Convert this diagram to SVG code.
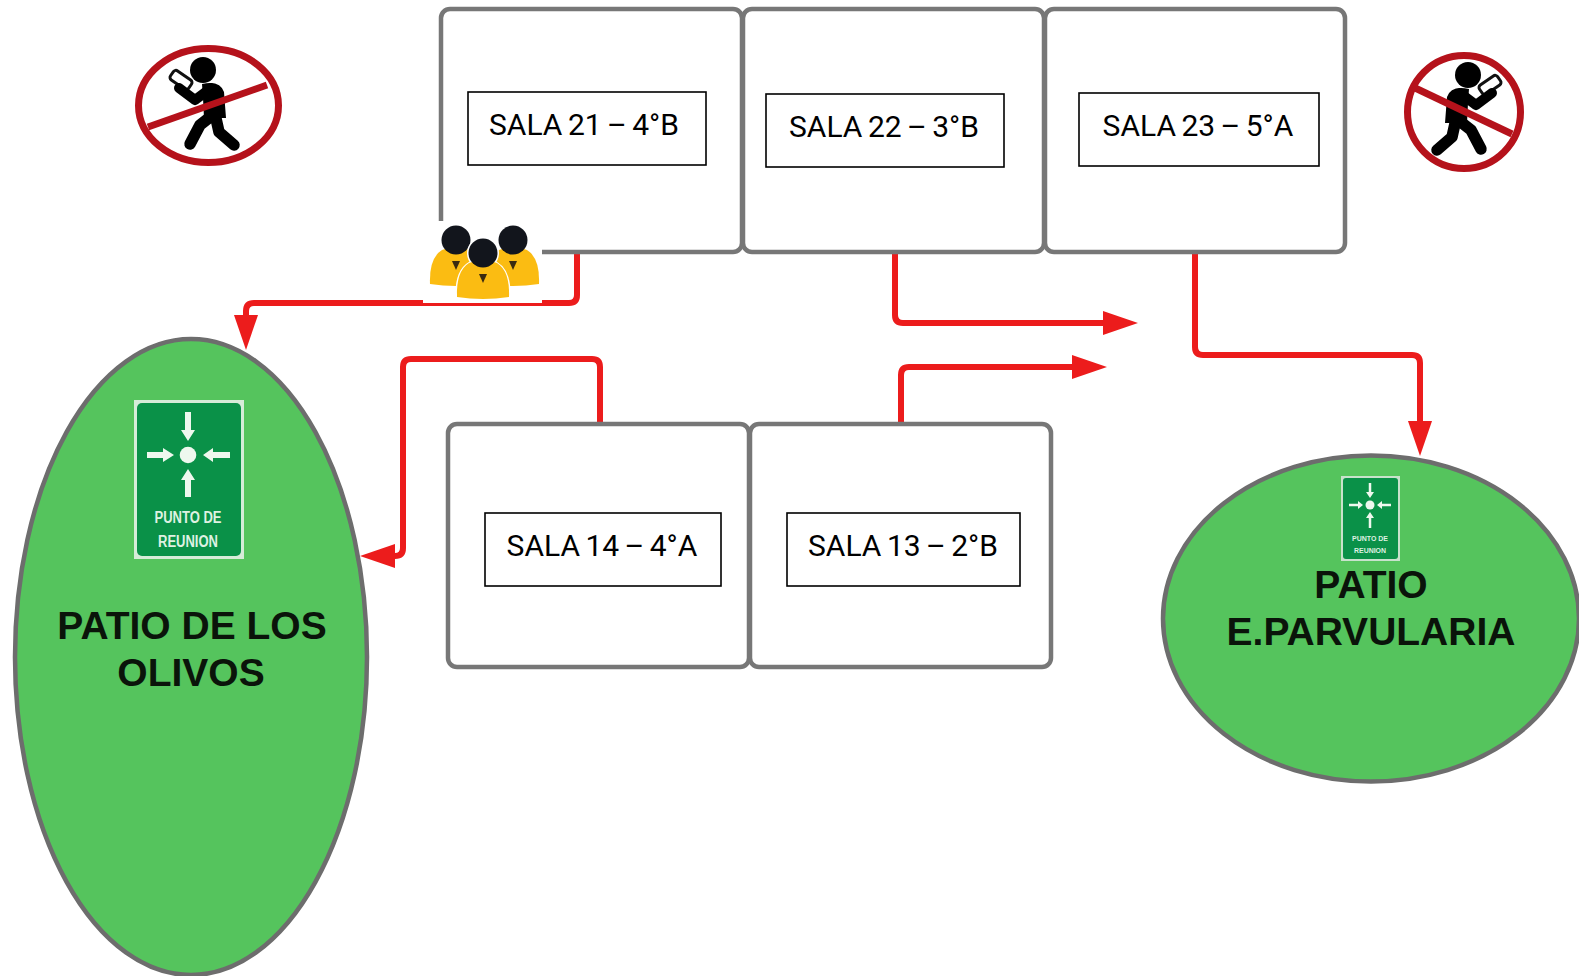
<svg xmlns="http://www.w3.org/2000/svg" width="1579" height="976" viewBox="0 0 1579 976">
<style>
.room{fill:#fff;stroke:#777;stroke-width:4.5}
.lbl{fill:#fff;stroke:#000;stroke-width:1.6}
.t{font-family:Roboto,"Liberation Sans",sans-serif;font-size:30px;word-spacing:-2px;fill:#000;text-anchor:middle}
.b{font-family:"Liberation Sans",Arial,sans-serif;font-weight:700;font-size:39px;fill:#0a140a;text-anchor:middle}
.patio{fill:#55c45d;stroke:#6d6d6d;stroke-width:4.5}
.wire{fill:none;stroke:#ec1c1c;stroke-width:6;stroke-linejoin:round}
.ban{fill:none;stroke:#b5121b}
.sign{fill:#0a9148}
.arr{fill:none;stroke:#eef8ee}
.st{font-family:"Liberation Sans",Arial,sans-serif;font-weight:700;fill:#dff2e2;text-anchor:middle}
</style>
<defs>
<marker id="ah" markerUnits="userSpaceOnUse" markerWidth="36" markerHeight="24" refX="3" refY="12" orient="auto"><path d="M0 0L35 12L0 24Z" fill="#ec1c1c"/></marker>
<g id="walker">
<circle cx="-5" cy="-38" r="13" fill="#000"/>
<rect x="-38" y="-33.500" width="22" height="11" rx="3" transform="rotate(35 -27 -28)" fill="#fff" stroke="#111" stroke-width="3"/>
<path d="M-29-20L-13-8L3-20" fill="none" stroke="#000" stroke-width="10" stroke-linecap="round" stroke-linejoin="round"/>
<path d="M-6-24Q12-28 16-16L18 10L-4 10L-5-10Z" fill="#000"/>
<path d="M6 6L-8 17L-18 36M7 6L11 24L26 37" fill="none" stroke="#000" stroke-width="11.500" stroke-linecap="round" stroke-linejoin="round"/>
</g>
<g id="person">
<path d="M-26 24Q-27-2-14-10Q0-16 14-10Q27-2 26 24Q0 28-26 24Z" fill="#fbbc12"/>
<circle cx="0" cy="-20" r="14.500" fill="#12151c"/>
<path d="M-4 1H4L0 10Z" fill="#3a2a10"/>
</g>
</defs>

<g id="connectors">
<path class="wire" d="M577 252V295Q577 303 569 303H254Q246 303 246 311V318" marker-end="url(#ah)"/>
<path class="wire" d="M895 252V315Q895 323 903 323H1106" marker-end="url(#ah)"/>
<path class="wire" d="M1195 252V347Q1195 355 1203 355H1412Q1420 355 1420 363V424" marker-end="url(#ah)"/>
<path class="wire" d="M600 424V367Q600 359 592 359H411Q403 359 403 367V548Q403 556 395 556H392" marker-end="url(#ah)"/>
<path class="wire" d="M901 424V375Q901 367 909 367H1075" marker-end="url(#ah)"/>
</g>

<g id="sala21"><rect class="room" x="441" y="9" width="301" height="243" rx="9"/><rect class="lbl" x="468" y="92" width="238" height="73"/><text class="t" x="584" y="135">SALA 21 – 4°B</text></g>
<g id="sala22"><rect class="room" x="743" y="9" width="301" height="243" rx="9"/><rect class="lbl" x="766" y="94" width="238" height="73"/><text class="t" x="884" y="137">SALA 22 – 3°B</text></g>
<g id="sala23"><rect class="room" x="1045" y="9" width="300" height="243" rx="9"/><rect class="lbl" x="1079" y="93" width="240" height="73"/><text class="t" x="1198" y="136">SALA 23 – 5°A</text></g>
<g id="sala14"><rect class="room" x="448" y="424" width="301" height="243" rx="9"/><rect class="lbl" x="485" y="513" width="236" height="73"/><text class="t" x="602" y="556">SALA 14 – 4°A</text></g>
<g id="sala13"><rect class="room" x="750" y="424" width="301" height="243" rx="9"/><rect class="lbl" x="787" y="513" width="233" height="73"/><text class="t" x="903" y="556">SALA 13 – 2°B</text></g>

<g id="patio-olivos">
<ellipse class="patio" cx="191" cy="657" rx="176" ry="318"/>
<rect x="134" y="400" width="110" height="159" fill="#d6ecd8"/>
<rect class="sign" x="137" y="403" width="104" height="153" rx="5"/>
<circle cx="188" cy="455" r="8.300" fill="#eef8ee"/>
<path class="arr" stroke-width="6" d="M188 412V432M188 478V497M147 455H165M230 455H211"/>
<path fill="#eef8ee" d="M181 430H195L188 441ZM181 480H195L188 469ZM163 448V462L174 455ZM213 448V462L203 455Z"/>
<text class="st" x="188" y="523" font-size="16" textLength="67" lengthAdjust="spacingAndGlyphs">PUNTO DE</text>
<text class="st" x="188" y="547" font-size="16" textLength="60" lengthAdjust="spacingAndGlyphs">REUNION</text>
<text class="b" x="192" y="639">PATIO DE LOS</text>
<text class="b" x="191" y="686">OLIVOS</text>
</g>

<g id="patio-parvularia">
<ellipse class="patio" cx="1371" cy="618.500" rx="208" ry="163"/>
<rect x="1341" y="476" width="59" height="85" fill="#c8e2cc"/>
<rect class="sign" x="1343" y="478" width="55" height="81" rx="3"/>
<circle cx="1370" cy="505" r="4.500" fill="#eef8ee"/>
<path class="arr" stroke-width="2.500" d="M1370 483V492M1370 518V528M1349 505H1358M1391 505H1382"/>
<path fill="#eef8ee" d="M1366 492H1374L1370 498ZM1366 518H1374L1370 512ZM1358 501V509L1363 505ZM1382 501V509L1377 505Z"/>
<text class="st" x="1370" y="541" font-size="7.500" textLength="36" lengthAdjust="spacingAndGlyphs">PUNTO DE</text>
<text class="st" x="1370" y="553" font-size="7.500" textLength="32" lengthAdjust="spacingAndGlyphs">REUNION</text>
<text class="b" x="1371" y="598">PATIO</text>
<text class="b" x="1371" y="645">E.PARVULARIA</text>
</g>

<g id="people">
<rect x="423" y="221" width="119" height="82" fill="#fff"/>
<use href="#person" x="456" y="260"/>
<use href="#person" x="513" y="260"/>
<path d="M457 297Q456 271 470 263L496 263Q510 271 509 297Z" fill="#fff" stroke="#fff" stroke-width="3"/>
<circle cx="483" cy="253" r="16" fill="#fff"/>
<use href="#person" x="483" y="273"/>
</g>

<g id="no-phone-left">
<use href="#walker" x="208" y="108"/>
<ellipse class="ban" cx="208.500" cy="105.500" rx="70" ry="57" stroke-width="7"/>
<path class="ban" stroke-width="7" d="M148 127L267 85"/>
</g>
<g id="no-phone-right">
<use href="#walker" transform="translate(1463 113) scale(-1 1)"/>
<circle class="ban" cx="1464" cy="112" r="56.500" stroke-width="7"/>
<path class="ban" stroke-width="7" d="M1413 87L1512 134"/>
</g>
</svg>
